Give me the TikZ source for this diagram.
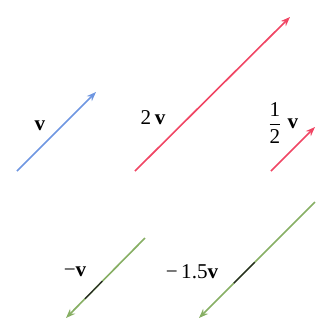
\documentclass[tikz,border=0pt]{standalone}
\usepackage{amsmath}
\usepackage{fontspec}
\setmainfont{Liberation Serif}
\usepackage{tikz}
\usetikzlibrary{arrows.meta,calc}
\definecolor{vblue}{RGB}{110,150,225}
\definecolor{vred}{RGB}{240,70,100}
\definecolor{vgreen}{RGB}{135,175,100}
\tikzset{
  %% Vector arrows
  bluearrow/.style={-{Stealth[length=8pt,width=6pt]}, line width=1.4pt, vblue},
  redarrow/.style={-{Stealth[length=8pt,width=6pt]}, line width=1.4pt, vred},
  greenarrow/.style={-{Stealth[length=8pt,width=6pt]}, line width=1.4pt, vgreen},
  %% Dark overlay piece
  darkpart/.style={line width=1pt, black!85},
  %% Labels
  veclabel/.style={font=\fontsize{18}{21}\selectfont, inner sep=0pt},
}
\begin{document}
\begin{tikzpicture}[x=0.03cm, y=-0.03cm]
  \useasboundingbox (0,0) rectangle (326,323);

  %% Ends of the vectors
  \coordinate (vtail)    at (17,171);
  \coordinate (vhead)    at (96,92);
  \coordinate (twotail)  at (135,171);
  \coordinate (twohead)  at (290,17);
  \coordinate (halftail) at (271,171);
  \coordinate (halfhead) at (315,127);
  \coordinate (negtail)  at (145,238);
  \coordinate (neghead)  at (66,318);
  \coordinate (nthtail)  at (315,202);
  \coordinate (nthhead)  at (199,318);

  %% Vectors
  \draw[bluearrow]  (vtail) -- (vhead);
  \draw[redarrow]   (twotail) -- (twohead);
  \draw[redarrow]   (halftail) -- (halfhead);
  \draw[greenarrow] (negtail) -- (neghead);
  \draw[greenarrow] (nthtail) -- (nthhead);
  \draw[darkpart] ($(negtail)!0.54!(neghead)$) -- ($(negtail)!0.76!(neghead)$);
  \draw[darkpart] ($(nthtail)!0.52!(nthhead)$) -- ($(nthtail)!0.70!(nthhead)$);

  %% Labels
  \node[veclabel] (vlab)    at (40,126)  {\textbf{v}};
  \node[veclabel] (twolab)  at (153,118) {2\,\textbf{v}};
  \node[veclabel] (halffr)  at (275,123) {$\dfrac{\text{1}}{\text{2}}$};
  \node[veclabel] (halfv)   at (293,124) {\textbf{v}};
  \node[veclabel] (neglab)  at (75,272)  {\textminus\textbf{v}};
  \node[veclabel] (nthlab)  at (192,272) {\textminus\,1.5\textbf{v}};

\end{tikzpicture}
\end{document}
